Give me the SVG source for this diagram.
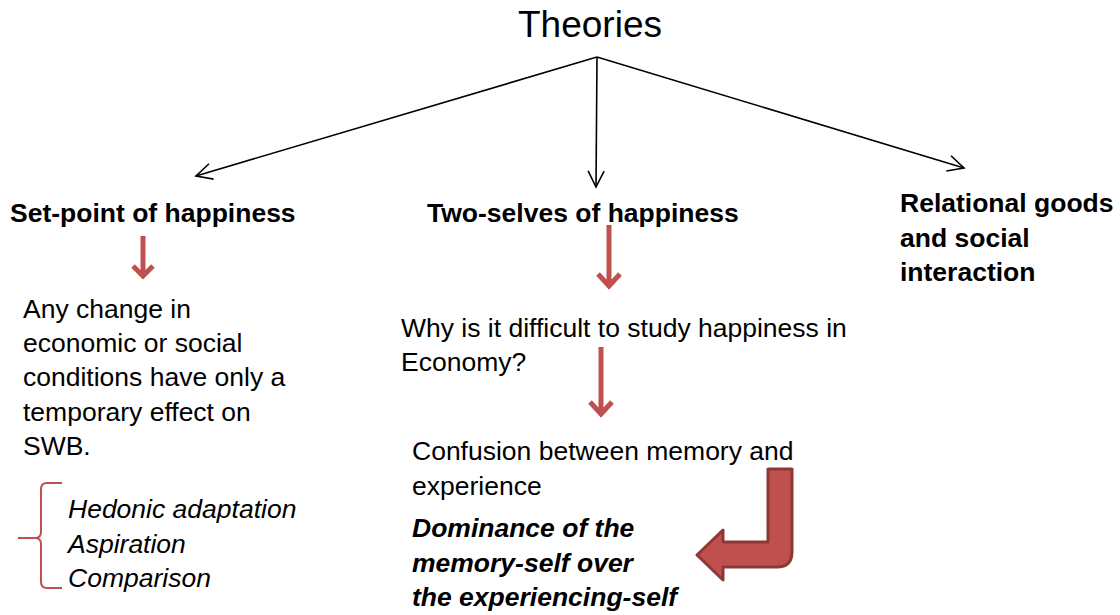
<svg xmlns="http://www.w3.org/2000/svg" width="1120" height="615" viewBox="0 0 1120 615">
  <style>
    text { font-family: "Liberation Sans", Arial, sans-serif; fill: #000; }
    .title { font-size: 37px; }
    .head { font-size: 26.5px; font-weight: bold; }
    .body { font-size: 26.5px; }
    .ital { font-size: 26.5px; font-style: italic; }
    .bi { font-size: 26.5px; font-style: italic; font-weight: bold; }
    .link { stroke: #000; stroke-width: 1.6; fill: none; marker-end: url(#open); }
    .red { stroke: #C0504D; stroke-width: 5; fill: none; stroke-linecap: butt; stroke-linejoin: miter; }
  </style>
  <defs>
    <marker id="open" viewBox="0 0 20 20" refX="18" refY="10" markerWidth="20" markerHeight="20" markerUnits="userSpaceOnUse" orient="auto">
      <path d="M2,2 L18,10 L2,18" fill="none" stroke="#000" stroke-width="1.6"/>
    </marker>
  </defs>

  <rect width="1120" height="615" fill="#fff"/>

  <g id="connectors">
    <line class="link" x1="597" y1="57" x2="196" y2="176"/>
    <line class="link" x1="597" y1="57" x2="596" y2="187"/>
    <line class="link" x1="597" y1="57" x2="964" y2="168"/>
    <!-- red down arrows -->
    <g>
      <path class="red" d="M143,236 V276 M133,266 L143,276 L153,266"/>
      <path class="red" d="M609,225 V286 M598,274 L609,286 L620,274"/>
      <path class="red" d="M601,347 V414 M590,402 L601,414 L612,402"/>
    </g>
    <!-- bent arrow -->
    <path d="M768,469 H792 V552 Q792,567 777,567 H723 V580 L697,555 L723,530 V542 H768 Z" fill="#C0504D" stroke="#8C3836" stroke-width="3" stroke-linejoin="round"/>
    <!-- brace -->
    <path d="M62,483 H47 Q41,483 41,489 V532 Q41,538 35,538 H18 H35 Q41,538 41,544 V582 Q41,588 47,588 H62" fill="none" stroke="#C0504D" stroke-width="2"/>
  </g>

  <g id="theories"><text class="title" x="590" y="37" text-anchor="middle">Theories</text></g>

  <g id="setpoint">
    <text class="head" x="10" y="222">Set-point of happiness</text>
  </g>
  <g id="twoselves">
    <text class="head" x="427" y="222">Two-selves of happiness</text>
  </g>
  <g id="relational">
    <text class="head" x="900" y="212">Relational goods</text>
    <text class="head" x="900" y="247">and social</text>
    <text class="head" x="900" y="281">interaction</text>
  </g>

  <g id="change">
    <text class="body" x="23" y="318">Any change in</text>
    <text class="body" x="23" y="352">economic or social</text>
    <text class="body" x="23" y="386">conditions have only a</text>
    <text class="body" x="23" y="421">temporary effect on</text>
    <text class="body" x="23" y="455">SWB.</text>
  </g>
  <g id="mechanisms">
    <text class="ital" x="68" y="518">Hedonic adaptation</text>
    <text class="ital" x="68" y="553">Aspiration</text>
    <text class="ital" x="68" y="587">Comparison</text>
  </g>

  <g id="why">
    <text class="body" x="401" y="337">Why is it difficult to study happiness in</text>
    <text class="body" x="401" y="371">Economy?</text>
  </g>
  <g id="confusion">
    <text class="body" x="412" y="460">Confusion between memory and</text>
    <text class="body" x="412" y="495">experience</text>
  </g>
  <g id="dominance">
    <text class="bi" x="412" y="537">Dominance of the</text>
    <text class="bi" x="412" y="572">memory-self over</text>
    <text class="bi" x="412" y="606">the experiencing-self</text>
  </g>
</svg>
